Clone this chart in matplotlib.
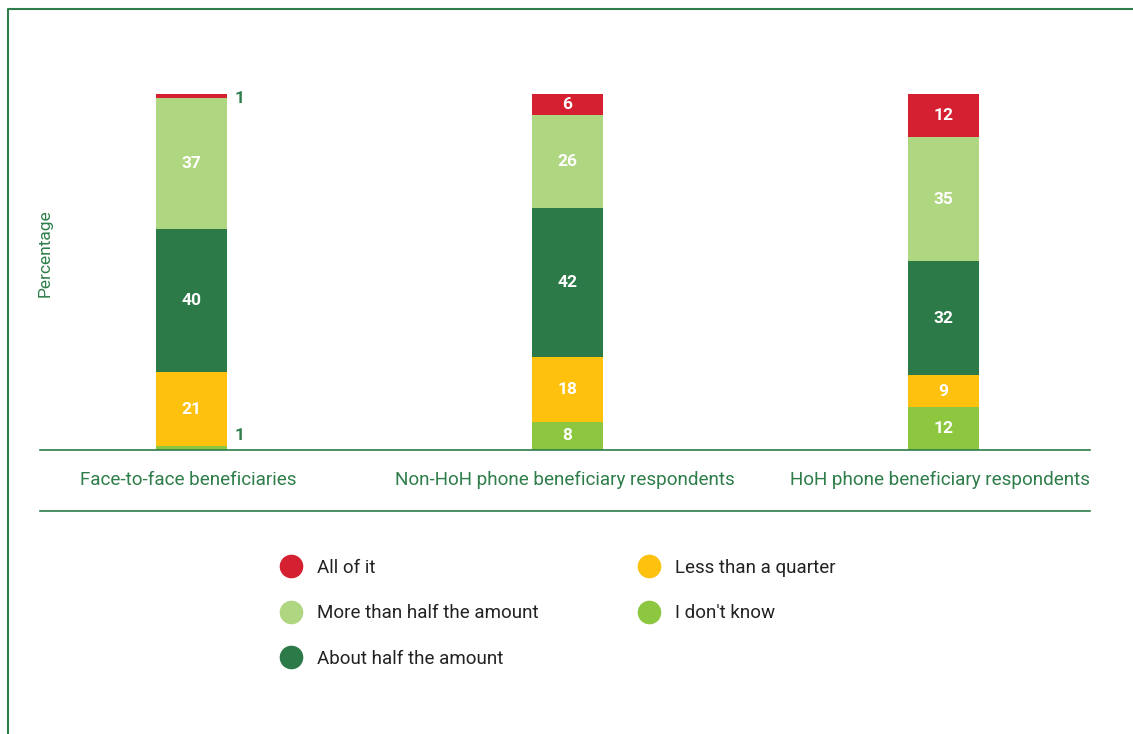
import numpy as np
import matplotlib.pyplot as plt
import matplotlib.transforms as mtransforms
from matplotlib.lines import Line2D

plt.rcParams['font.family'] = ['Roboto', 'DejaVu Sans']

groups = ['Face-to-face beneficiaries', 'Non-HoH phone beneficiary respondents',
          'HoH phone beneficiary respondents']

# stacked from the bottom up
dont_know = [1, 8, 12]
less_quarter = [21, 18, 9]
about_half = [40, 42, 32]
more_half = [37, 26, 35]
all_of_it = [1, 6, 12]

series = [
    ("I don't know", dont_know, '#8dc63f'),
    ('Less than a quarter', less_quarter, '#fdc10e'),
    ('About half the amount', about_half, '#2c7a47'),
    ('More than half the amount', more_half, '#afd681'),
    ('All of it', all_of_it, '#d42030'),
]

green = '#2e7d4a'

fig = plt.figure(figsize=(11.33, 7.34), dpi=100)
ax = fig.add_axes([40 / 1133, 284 / 734, 1050 / 1133, 356 / 734])

x = np.arange(len(groups))
width = 0.189
bottom = np.zeros(len(groups))
for name, vals, color in series:
    vals = np.array(vals, dtype=float)
    ax.bar(x, vals, width, bottom=bottom, color=color, label=name)
    for xi, b, v in zip(x, bottom, vals):
        if v >= 5:
            ax.text(xi, b + v / 2, f'{v:.0f}', ha='center', va='center',
                    color='white', fontsize=12.5, fontweight='bold')
        else:
            # thin segments get their label beside the bar
            ypos = min(max(b + v / 2, 4.0), 98.6)
            ax.text(xi + width / 2 + 0.02, ypos, f'{v:.0f}', ha='left',
                    va='center', color=green, fontsize=12.5, fontweight='bold')
    bottom += vals

ax.set_xlim(-0.403, 2.39)
ax.set_ylim(0, 100)
ax.set_xticks(x)
ax.set_xticklabels(groups, fontsize=13.6, color=green)
ax.tick_params(axis='x', length=0, pad=15)
shift = mtransforms.ScaledTranslation(-3 / 100, 0, fig.dpi_scale_trans)
for lab in ax.get_xticklabels():
    lab.set_transform(lab.get_transform() + shift)
ax.set_yticks([])
for side in ['top', 'right', 'left']:
    ax.spines[side].set_visible(False)
ax.spines['bottom'].set_color(green)
ax.spines['bottom'].set_linewidth(1.2)
ax.set_ylabel('Percentage', fontsize=12.5, color=green)
ax.yaxis.set_label_coords(0.0124, 0.552)

# rule under the category labels and the frame at left/top
fig.add_artist(Line2D([40 / 1133, 1090 / 1133], [223 / 734, 223 / 734],
                      color=green, lw=1.2))
fig.add_artist(Line2D([8 / 1133, 8 / 1133, 1], [0, 725 / 734, 725 / 734],
                      color=green, lw=1.5))

order = ['All of it', 'More than half the amount', 'About half the amount',
         'Less than a quarter', "I don't know"]
colors = {n: c for n, _, c in series}
handles = [Line2D([], [], marker='o', ls='', markersize=16,
                  markerfacecolor=colors[n], markeredgecolor=colors[n])
           for n in order]
fig.legend(handles, order, loc='upper left', bbox_to_anchor=(263 / 1133, 192 / 734),
           ncol=2, frameon=False, fontsize=13.5, handlelength=1.2,
           handletextpad=0.79, labelspacing=1.46, columnspacing=5.27,
           labelcolor='#222222')

fig.savefig('out.png', dpi=100)
